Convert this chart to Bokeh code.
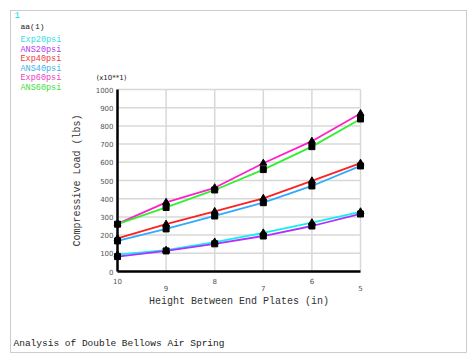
from bokeh.plotting import figure
from bokeh.models import Range1d, FixedTicker, Label, BoxAnnotation, LinearAxis
from bokeh.embed import file_html
from bokeh.resources import INLINE

heights = [10, 9, 8, 7, 6, 5]
exp20 = [93, 117, 162, 212, 268, 328]
ans20 = [82, 113, 152, 195, 250, 316]
exp40 = [182, 260, 330, 402, 498, 595]
ans40 = [168, 234, 305, 378, 470, 580]
exp60 = [262, 380, 460, 595, 716, 868]
ans60 = [260, 352, 448, 560, 686, 838]

series_names = ["Exp20psi", "ANS20psi", "Exp40psi", "ANS40psi", "Exp60psi", "ANS60psi"]
series_vals = [exp20, ans20, exp40, ans40, exp60, ans60]
series_colors = ["#10f0f0", "#b030ff", "#ff2020", "#30aaff", "#ff20c8", "#30f030"]
legend_colors = ["#30e0e0", "#b040f0", "#f03a3a", "#40b0f0", "#f040c0", "#40e040"]
series_markers = ["triangle", "square", "triangle", "square", "triangle", "square"]

y_ticks = [0, 100, 200, 300, 400, 500, 600, 700, 800, 900, 1000]
x_ticks = [10, 9, 8, 7, 6, 5]
x_ticks_upper = [10, 8, 6]
x_ticks_lower = [9, 7, 5]

# page layout (pixels): plot area from x 117..360, y 89..271
W, H = 468, 354
X_LO, X_HI = 10, 5
Y_LO, Y_HI = 0, 1000
PX_L, PX_R, PY_T, PY_B = 117, 360, 89, 271
kx = (X_LO - X_HI) / (PX_R - PX_L)
ky = (Y_HI - Y_LO) / (PY_B - PY_T)
x_range = Range1d(X_LO + PX_L * kx, X_HI - (W - PX_R) * kx)
y_range = Range1d(Y_LO - (H - PY_B) * ky, Y_HI + PY_T * ky)

p = figure(width=W, height=H, output_backend="svg", toolbar_location=None,
           x_range=x_range, y_range=y_range, min_border=0)
p.outline_line_color = None
p.background_fill_color = "white"
p.border_fill_color = "white"
p.xgrid.visible = False
p.ygrid.visible = False

mono = "Liberation Mono"

# grid lines limited to the data area
p.segment(x0=x_ticks, y0=[Y_LO] * len(x_ticks), x1=x_ticks, y1=[Y_HI] * len(x_ticks),
          line_color="#d8d8d8", line_width=1.5)
p.segment(x0=[X_LO] * len(y_ticks), y0=y_ticks, x1=[X_HI] * len(y_ticks), y1=y_ticks,
          line_color="#d8d8d8", line_width=1.5)

x1 = p.xaxis[0]
x2 = LinearAxis()
p.add_layout(x2, "below")
y1 = p.yaxis[0]

x1.ticker = FixedTicker(ticks=x_ticks_upper)
x2.ticker = FixedTicker(ticks=x_ticks_lower)
y1.ticker = FixedTicker(ticks=y_ticks)
for ax in (x1, x2, y1):
    ax.axis_line_color = "black"
    ax.axis_line_width = 2.5
    ax.major_tick_line_color = None
    ax.minor_tick_line_color = None
    ax.major_label_text_font = "DejaVu Sans"
    ax.major_label_text_font_size = "7px"
    ax.major_label_text_color = "#555555"
    ax.axis_label_text_font = mono
    ax.axis_label_text_font_style = "normal"
    ax.axis_label_text_font_size = "10px"
    ax.axis_label_text_color = "#333333"
x1.fixed_location = Y_LO
x2.fixed_location = Y_LO
y1.fixed_location = X_LO
x1.bounds = (X_HI, X_LO)
x2.bounds = (X_HI, X_LO)
y1.bounds = (Y_LO, Y_HI)
x2.axis_line_color = None
x1.major_label_standoff = 0
x2.major_label_standoff = 7
y1.major_label_standoff = -2
x2.axis_label = "Height Between End Plates (in)"
y1.axis_label = "Compressive Load (lbs)"
x2.axis_label_standoff = 2
y1.axis_label_standoff = 10

for name, vals, col, mk in zip(series_names, series_vals, series_colors, series_markers):
    p.line(heights, vals, line_color=col, line_width=1.8)
for name, vals, col, mk in zip(series_names, series_vals, series_colors, series_markers):
    p.scatter(heights, vals, marker=mk, size=7 if mk == "triangle" else 6,
              fill_color="black", line_color="black")

# outer border
p.add_layout(BoxAnnotation(left=10, right=466, top=H - 10, bottom=H - 352,
                           left_units="screen", right_units="screen",
                           top_units="screen", bottom_units="screen",
                           fill_color=None, line_color="#555555", line_width=1))

def lab(px, py, text, color="black", size="8.5px", font=mono):
    p.add_layout(Label(x=px, y=H - py, x_units="screen", y_units="screen", text=text,
                       text_color=color, text_font_size=size, text_font=font,
                       text_baseline="middle", text_align="left"))

lab(14, 14.5, "1", color="#10e0e0", size="9px")
lab(20, 25.5, "aa(1)", size="8px", color="#222222")
for i, (name, col) in enumerate(zip(series_names, legend_colors)):
    lab(20, 39.5 + i * 9.6, name, color=col)
lab(96, 77, "(x10**1)", size="7px", font="DejaVu Sans", color="#222222")
lab(13, 343, "Analysis of Double Bellows Air Spring", size="9.5px", color="#222222")

open("out.html", "w").write(file_html(p, INLINE))
